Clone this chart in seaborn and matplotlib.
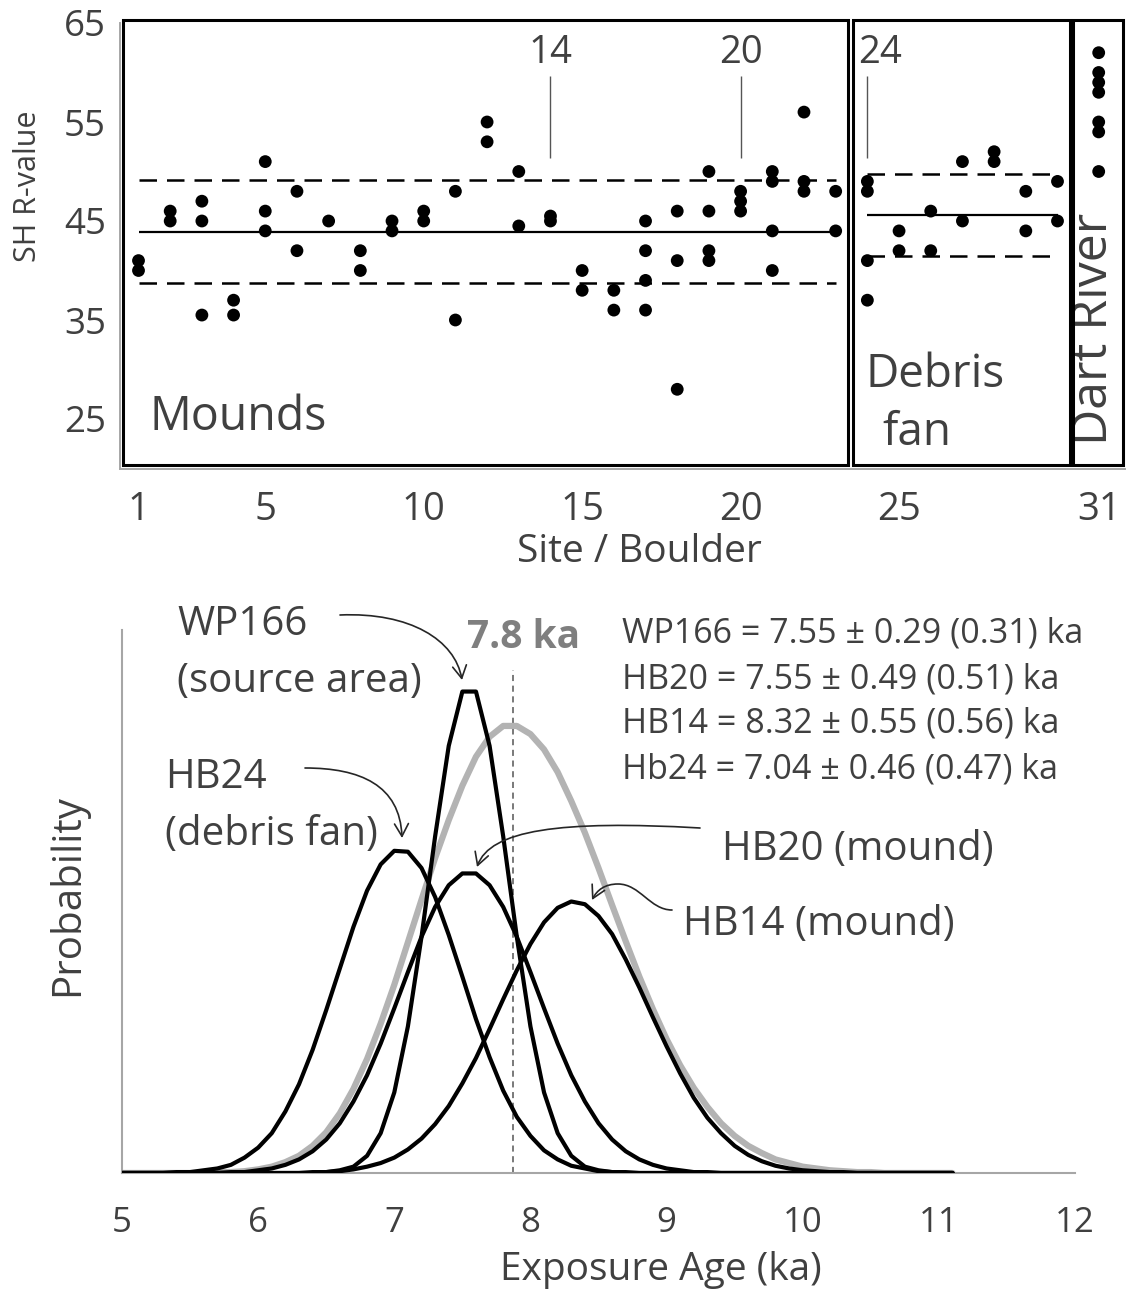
import numpy as np
import pandas as pd
import matplotlib
matplotlib.use("Agg")
import matplotlib.pyplot as plt
from matplotlib.patches import Rectangle, FancyArrowPatch
from matplotlib.path import Path
import seaborn as sns

#---------- top panel: SH R-values per site / boulder ----------
mound_site = [1, 1, 2, 2, 3, 3, 3, 4, 4, 5, 5, 5, 6, 6, 7, 8, 8, 9, 9, 10, 10, 11, 11, 12, 12,
              13, 13, 14, 14, 15, 15, 16, 16, 17, 17, 17, 17, 18, 18, 18, 19, 19, 19, 19,
              20, 20, 20, 21, 21, 21, 21, 22, 22, 22, 23, 23]
mound_r = [41, 40, 46, 45, 47, 45, 35.5, 37, 35.5, 51, 46, 44, 48, 42, 45, 42, 40, 45, 44, 46, 45, 48, 35, 55, 53,
           50, 44.5, 45.5, 45, 40, 38, 38, 36, 45, 42, 39, 36, 46, 41, 28, 50, 46, 42, 41,
           48, 47, 46, 50, 49, 44, 40, 56, 49, 48, 48, 44]
fan_site = [24, 24, 24, 24, 25, 25, 26, 26, 27, 27, 28, 28, 29, 29, 30, 30]
fan_r = [49, 48, 41, 37, 44, 42, 46, 42, 51, 45, 52, 51, 48, 44, 49, 45]
river_site = [31, 31, 31, 31, 31, 31, 31]
river_r = [62, 60, 59, 58, 55, 54, 50]

mound_mean, mound_sd = 43.9, 5.2
fan_mean, fan_sd = 45.6, 4.1
dated_sites = [14, 20, 24]

x_tick_labels = {1: "1", 5: "5", 10: "10", 15: "15", 20: "20", 25: "25", 31: "31"}

#---------- bottom panel: exposure age probability curves ----------
age = [5.0, 5.1, 5.2, 5.3, 5.4, 5.5, 5.6, 5.7, 5.8, 5.9,
       6.0, 6.1, 6.2, 6.3, 6.4, 6.5, 6.6, 6.7, 6.8, 6.9,
       7.0, 7.1, 7.2, 7.3, 7.4, 7.5, 7.6, 7.7, 7.8, 7.9,
       8.0, 8.1, 8.2, 8.3, 8.4, 8.5, 8.6, 8.7, 8.8, 8.9,
       9.0, 9.1, 9.2, 9.3, 9.4, 9.5, 9.6, 9.7, 9.8, 9.9,
       10.0, 10.1, 10.2, 10.3, 10.4, 10.5, 10.6, 10.7, 10.8, 10.9,
       11.0, 11.1]

p_combined = [0, 0, 0, 0, 0, 0, 0, 0.01, 0.01, 0.02,
              0.04, 0.07, 0.12, 0.19, 0.30, 0.45, 0.66, 0.93, 1.26, 1.65,
              2.08, 2.55, 3.02, 3.48, 3.90, 4.28, 4.60, 4.82, 4.94, 4.94,
              4.85, 4.68, 4.43, 4.11, 3.76, 3.37, 2.96, 2.56, 2.17, 1.81,
              1.48, 1.19, 0.94, 0.73, 0.55, 0.41, 0.30, 0.22, 0.15, 0.11,
              0.07, 0.05, 0.03, 0.02, 0.01, 0.01, 0, 0, 0, 0,
              0, 0]
p_wp166 = [0, 0, 0, 0, 0, 0, 0, 0, 0, 0,
           0, 0, 0, 0, 0, 0.01, 0.03, 0.07, 0.19, 0.44,
           0.89, 1.62, 2.61, 3.72, 4.72, 5.32, 5.32, 4.72, 3.72, 2.61,
           1.62, 0.89, 0.44, 0.19, 0.07, 0.03, 0.01, 0, 0, 0,
           0, 0, 0, 0, 0, 0, 0, 0, 0, 0,
           0, 0, 0, 0, 0, 0, 0, 0, 0, 0,
           0, 0]
p_hb20 = [0, 0, 0, 0, 0, 0, 0, 0, 0.01, 0.01,
          0.03, 0.05, 0.09, 0.15, 0.24, 0.37, 0.55, 0.79, 1.08, 1.43,
          1.82, 2.22, 2.61, 2.94, 3.18, 3.31, 3.31, 3.18, 2.94, 2.61,
          2.22, 1.82, 1.43, 1.08, 0.79, 0.55, 0.37, 0.24, 0.15, 0.09,
          0.05, 0.03, 0.01, 0.01, 0, 0, 0, 0, 0, 0,
          0, 0, 0, 0, 0, 0, 0, 0, 0, 0,
          0, 0]
p_hb14 = [0, 0, 0, 0, 0, 0, 0, 0, 0, 0,
          0, 0, 0, 0, 0.01, 0.01, 0.02, 0.04, 0.07, 0.11,
          0.17, 0.26, 0.38, 0.54, 0.74, 0.99, 1.27, 1.59, 1.92, 2.24,
          2.53, 2.77, 2.93, 3.00, 2.97, 2.84, 2.64, 2.36, 2.05, 1.72,
          1.40, 1.10, 0.83, 0.61, 0.44, 0.30, 0.20, 0.13, 0.08, 0.05,
          0.03, 0.02, 0.01, 0.01, 0, 0, 0, 0, 0, 0,
          0, 0]
p_hb24 = [0, 0, 0, 0, 0.01, 0.01, 0.03, 0.05, 0.09, 0.17,
          0.28, 0.44, 0.68, 0.98, 1.36, 1.80, 2.26, 2.72, 3.12, 3.41,
          3.56, 3.55, 3.37, 3.05, 2.63, 2.17, 1.70, 1.28, 0.91, 0.62,
          0.41, 0.25, 0.15, 0.08, 0.05, 0.02, 0.01, 0.01, 0, 0,
          0, 0, 0, 0, 0, 0, 0, 0, 0, 0,
          0, 0, 0, 0, 0, 0, 0, 0, 0, 0,
          0, 0]

mean_age = 7.87
age_lines = ["WP166 = 7.55 \u00b1 0.29 (0.31) ka",
             "HB20 = 7.55 \u00b1 0.49 (0.51) ka",
             "HB14 = 8.32 \u00b1 0.55 (0.56) ka",
             "Hb24 = 7.04 \u00b1 0.46 (0.47) ka"]

#---------- style ----------
sns.set_style("white")
plt.rcParams["font.family"] = ["Open Sans", "DejaVu Sans"]
TXT = "#404040"
AXC = "#a6a6a6"

W, H = 1130, 1291
fig = plt.figure(figsize=(W / 100, H / 100), dpi=100)


def fx(p):
    return p / W


def fy(p):
    return 1 - p / H


#---------- top panel ----------
ax1 = fig.add_axes([fx(120), fy(468.5), fx(1125) - fx(120), fy(23) - fy(468.5)])
df_top = pd.DataFrame({"site": mound_site + fan_site + river_site,
                       "r": mound_r + fan_r + river_r})
df_top["xpos"] = df_top["site"].where(df_top["site"] < 31, 31.3)
sns.scatterplot(data=df_top, x="xpos", y="r", color="black", s=85,
                edgecolor="none", ax=ax1, legend=False, zorder=3)

dash = (0, (7, 4))
ax1.hlines(mound_mean, 1, 23, colors="black", lw=1.6)
ax1.hlines([mound_mean + mound_sd, mound_mean - mound_sd], 1, 23,
           colors="black", lw=1.8, linestyles=dash)
ax1.hlines(fan_mean, 24, 30, colors="black", lw=1.6)
ax1.hlines([fan_mean + fan_sd, fan_mean - fan_sd], 24, 29.83,
           colors="black", lw=1.8, linestyles=dash)

for x0, x1 in [(0.511, 23.39), (23.55, 30.39), (30.49, 32.07)]:
    ax1.add_patch(Rectangle((x0, 20.35), x1 - x0, 65.3 - 20.35, fill=False,
                            ec="black", lw=2.2, clip_on=False, zorder=4))

for s in dated_sites:
    ax1.vlines(s, 51.4, 59.6, colors="#555555", lw=1)
    if s == 24:
        ax1.text(23.7, 61.0, str(s), ha="left", va="baseline", fontsize=27.5, color=TXT)
    else:
        ax1.text(s, 61.0, str(s), ha="center", va="baseline", fontsize=27.5, color=TXT)

ax1.text(1.36, 23.9, "Mounds", fontsize=33.5, color=TXT, va="baseline")
ax1.text(23.93, 28.23, "Debris", fontsize=33, color=TXT, va="baseline")
ax1.text(24.46, 22.37, "fan", fontsize=33, color=TXT, va="baseline")
ax1.text(31.15, 34.09, "Dart River", fontsize=36, color=TXT, rotation=90,
         ha="center", va="center")

ax1.set_xlim(0.416, 32.13)
ax1.set_ylim(20, 65)
ax1.set_yticks([25, 35, 45, 55, 65])
ax1.set_yticks([20, 30, 40, 50, 60], minor=True)
ax1.tick_params(axis="y", which="both", direction="out", length=8.5, width=1.4,
                color=AXC, pad=1.5, labelsize=26.5, labelcolor=TXT)
xpos_ticks = list(range(1, 31)) + [31.3]
ax1.set_xticks(xpos_ticks)
ax1.set_xticklabels([x_tick_labels.get(t, "") for t in range(1, 32)])
ax1.tick_params(axis="x", direction="out", length=9, width=1.4, color=AXC,
                pad=7, labelsize=27.5, labelcolor=TXT)
ax1.set_xlabel("")
ax1.set_ylabel("")
for side in ["top", "right"]:
    ax1.spines[side].set_visible(False)
for side in ["left", "bottom"]:
    ax1.spines[side].set_color(AXC)
    ax1.spines[side].set_linewidth(1.4)

fig.text(fx(28), fy(186), "SH R-value", rotation=90, ha="center", va="center",
         fontsize=22, color=TXT)
fig.text(fx(639), fy(562), "Site / Boulder", ha="center", va="baseline",
         fontsize=28, color=TXT)

#---------- bottom panel ----------
ax2 = fig.add_axes([fx(122), fy(1173), fx(1075) - fx(122), fy(630) - fy(1173)])
sns.lineplot(x=age, y=p_combined, color="#b3b3b3", lw=4.5, ax=ax2, zorder=2)
for curve in [p_hb24, p_hb14, p_hb20, p_wp166]:
    sns.lineplot(x=age, y=curve, color="black", lw=3.0, ax=ax2, zorder=3)
ax2.vlines(mean_age, 0, 5.56, colors="#555555", lw=1.1, linestyles=(0, (4, 3)), zorder=1)

ax2.set_xlim(5, 12)
ax2.set_ylim(0, 6)
ax2.set_xticks(range(5, 13))
ax2.set_yticks(range(0, 7))
ax2.tick_params(axis="x", direction="out", length=9, width=1.5, color=AXC,
                pad=15, labelsize=25, labelcolor=TXT)
ax2.tick_params(axis="y", direction="out", length=14, width=1.5, color=AXC,
                labelleft=False)
for side in ["top", "right"]:
    ax2.spines[side].set_visible(False)
for side in ["left", "bottom"]:
    ax2.spines[side].set_color(AXC)
    ax2.spines[side].set_linewidth(1.5)


def bx(p):
    return 5 + (p - 122) / 136.14


def by(p):
    return (1173 - p) / 90.5


arrow_paths = [
    [(340, 615), (410, 612), (455, 640), (462, 680)],
    [(305, 768), (360, 768), (400, 785), (402, 838)],
    [(700, 828), (560, 820), (490, 830), (477, 867)],
    [(672, 910), (650, 910), (640, 884), (618, 884), (605, 884), (597, 890), (592, 900)],
]
for pts in arrow_paths:
    verts = [(bx(a), by(b)) for a, b in pts]
    codes = [Path.MOVETO] + [Path.CURVE4] * (len(verts) - 1)
    arr = FancyArrowPatch(path=Path(verts, codes),
                          arrowstyle="->,head_length=0.45,head_width=0.25",
                          mutation_scale=20, lw=1.2, color="#262626",
                          clip_on=False, zorder=5)
    ax2.add_patch(arr)

for txt, x, y in [("WP166", 177, 635), ("(source area)", 177, 692),
                  ("HB24", 165, 788), ("(debris fan)", 165, 845),
                  ("HB20 (mound)", 722, 860), ("HB14 (mound)", 683, 935)]:
    fig.text(fx(x), fy(y), txt, fontsize=29, color=TXT, va="baseline")

fig.text(fx(467), fy(648), "7.8 ka", fontsize=28, color="#7f7f7f",
         fontweight="bold", va="baseline")
for txt, y in zip(age_lines, [642, 688, 732, 779]):
    fig.text(fx(622), fy(y), txt, fontsize=24.5, color=TXT, va="baseline")

fig.text(fx(68), fy(895), "Probability", rotation=90, ha="center", va="center",
         fontsize=29, color=TXT)
fig.text(fx(661), fy(1280), "Exposure Age (ka)", ha="center", va="baseline",
         fontsize=28, color=TXT)

fig.savefig("out.png", dpi=100)
